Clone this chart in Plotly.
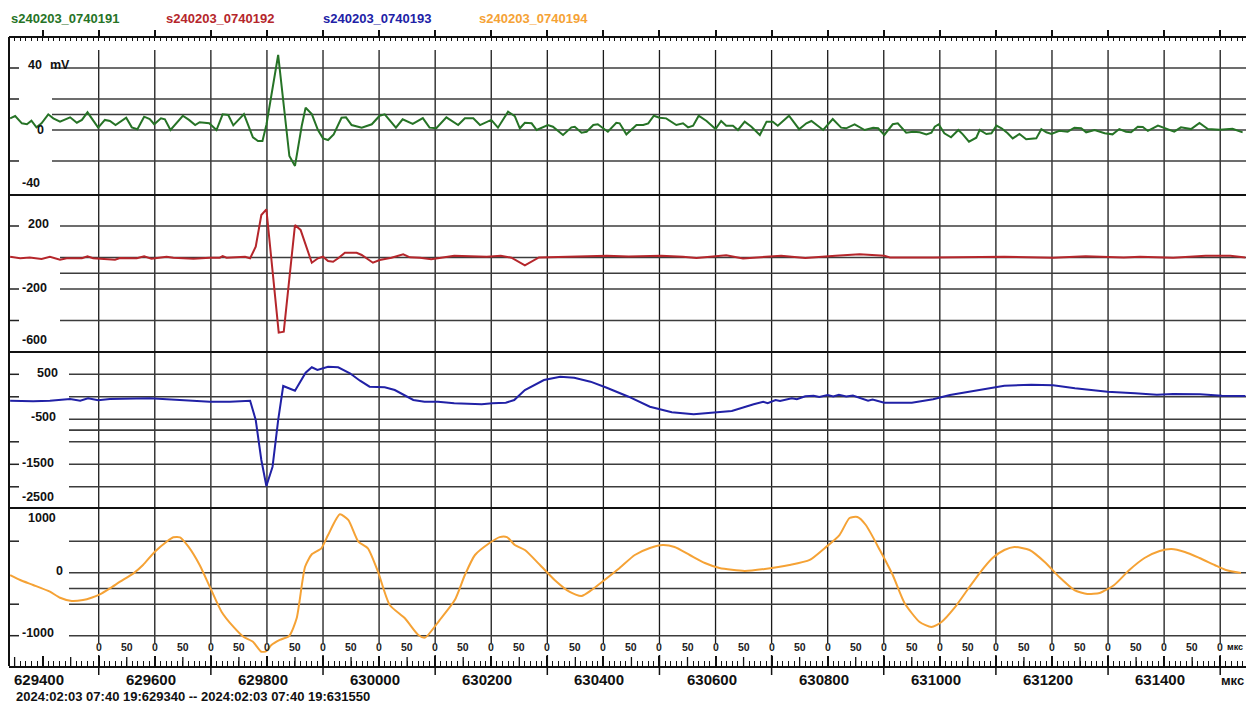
import plotly.graph_objects as go

# ---------------- data (time in µs) ----------------
series_names = ["s240203_0740191", "s240203_0740192", "s240203_0740193", "s240203_0740194"]
series_colors = ["#267326", "#b5262b", "#2121a6", "#f5a235"]

green_samples = [
    (629342, 7.5), (629351, 9.0), (629363, 4.3), (629372, 3.7), (629380, 6.0), (629389, 1.7), (629398, 4.3),
    (629410, 10.1), (629419, 7.5), (629431, 5.4), (629449, 8.2), (629461, 4.7), (629470, 6.5), (629480, 11.4),
    (629499, 1.5), (629511, 6.5), (629520, 5.8), (629530, 3.2), (629549, 7.9), (629559, 1.7), (629569, 0.5),
    (629581, 8.6), (629591, 7.1), (629599, 3.7), (629611, 7.5), (629618, 6.9), (629628, 0.0), (629650, 9.2),
    (629661, 6.5), (629672, 3.2), (629680, 5.0), (629697, 4.3), (629710, 0.0), (629721, 10.1), (629731, 9.7),
    (629740, 3.0), (629759, 10.3), (629775, -4.7), (629784, -7.1), (629792, -7.1), (629799, 3.2), (629820, 48.4),
    (629840, -16.8), (629850, -23.2), (629862, 2.6), (629869, 14.4), (629880, 10.3), (629891, 0.0), (629900, -5.4),
    (629909, -6.5), (629919, -2.8), (629933, 7.9), (629941, 8.2), (629951, 3.2), (629969, 1.5), (629987, 3.7),
    (630001, 9.2), (630010, 10.1), (630030, 1.5), (630042, 6.9), (630060, 3.9), (630078, 7.7), (630090, 1.5),
    (630102, 1.1), (630120, 8.2), (630141, 3.2), (630153, 7.5), (630168, 7.5), (630180, 3.2), (630200, 6.5),
    (630212, 1.5), (630230, 11.8), (630242, 9.0), (630251, 1.1), (630260, 4.7), (630272, 4.3), (630281, 0.0),
    (630301, 3.2), (630310, 2.1), (630328, -3.2), (630343, 1.7), (630349, 2.1), (630361, -1.7), (630370, -1.1),
    (630382, 3.2), (630390, 3.7), (630408, -1.1), (630423, 4.7), (630429, 4.3), (630441, -2.8), (630459, 3.2),
    (630471, 3.2), (630480, 4.3), (630490, 9.2), (630500, 7.9), (630512, 7.5), (630530, 3.2), (630542, 4.3),
    (630551, 1.7), (630560, 2.8), (630570, 9.2), (630584, 5.8), (630600, 0.6), (630610, 5.8), (630619, 2.8),
    (630631, 2.8), (630640, 0.0), (630652, 5.4), (630664, 2.1), (630679, -3.2), (630691, 5.4), (630702, 5.4),
    (630711, 2.8), (630731, 9.2), (630749, 0.5), (630762, 4.3), (630771, 5.8), (630792, 0.0), (630809, 7.1),
    (630824, 1.5), (630833, 1.1), (630848, 3.7), (630866, 0.0), (630881, 1.5), (630890, 1.1), (630901, -3.2),
    (630916, 3.7), (630925, 4.3), (630940, -1.7), (630952, -1.1), (630964, -1.5), (630976, -2.8), (630985, -1.7),
    (630991, 2.1), (630998, 3.7), (631008, -2.1), (631020, -4.7), (631033, 0.0), (631041, -2.8), (631052, -7.5),
    (631065, -5.0), (631071, 0.0), (631083, -2.6), (631092, -2.1), (631101, 2.8), (631110, 1.1), (631121, -2.1),
    (631130, -5.4), (631142, -2.6), (631154, -6.0), (631172, -5.4), (631181, 0.5), (631190, -1.5), (631199, -2.6),
    (631213, -0.5), (631228, -1.1), (631240, 1.5), (631252, 1.1), (631261, -1.5), (631276, 0.0), (631294, -2.1),
    (631308, -2.8), (631320, 0.6), (631332, -1.1), (631341, -1.5), (631353, 2.1), (631362, 1.9), (631371, -0.6),
    (631389, 2.8), (631404, 0.6), (631418, -1.1), (631430, 1.7), (631448, 0.6), (631463, 4.5), (631478, 0.6),
    (631499, 0.2), (631522, 0.8), (631540, -1.5),
]

red_samples = [
    (629342, 5), (629360, -5), (629377, 0), (629398, -10), (629413, 5), (629431, -14), (629443, -5), (629470, -5),
    (629480, 8), (629490, -5), (629529, -14), (629538, -3), (629568, -5), (629581, 8), (629594, -8), (629621, 5),
    (629633, -1), (629669, -8), (629698, -1), (629716, -1), (629721, 9), (629728, -1), (629761, 5), (629770, -5),
    (629780, 69), (629790, 270), (629799, 306), (629821, -477), (629830, -471), (629850, 206), (629860, 175),
    (629880, -33), (629891, -5), (629900, 5), (629909, -22), (629918, -27), (629927, -5), (629939, 30), (629960, 30),
    (629969, 16), (629989, -33), (630001, -16), (630022, -1), (630043, 20), (630055, 1), (630073, -1), (630093, -11),
    (630110, 0), (630134, 11), (630192, 5), (630217, 11), (630236, -1), (630260, -50), (630285, 0), (630328, 5),
    (630406, 11), (630445, 6), (630503, 11), (630542, 5), (630566, -3), (630619, 14), (630649, -6), (630717, 11),
    (630760, -3), (630814, 11), (630857, 20), (630901, 11), (630911, 0), (630989, 0), (631056, 3), (631115, 5),
    (631202, -1), (631260, 8), (631328, 0), (631357, 5), (631416, -1), (631474, 11), (631518, 11), (631545, 0),
]

blue_samples = [
    (629342, -87), (629383, -100), (629413, -87), (629449, -49), (629467, -87), (629481, -33), (629499, -78),
    (629520, -49), (629591, -33), (629621, -56), (629698, -109), (629734, -109), (629770, -87), (629780, -516),
    (629790, -1404), (629799, -1982), (629810, -1553), (629820, -516), (629829, 240), (629850, 136), (629869, 536),
    (629880, 656), (629890, 596), (629909, 669), (629927, 656), (629948, 522), (629966, 358), (629983, 224),
    (630010, 211), (630028, 151), (630049, 2), (630061, -71), (630081, -109), (630105, -109), (630134, -144),
    (630183, -167), (630202, -144), (630226, -131), (630241, -71), (630260, 151), (630294, 373), (630323, 447),
    (630348, 424), (630377, 336), (630406, 202), (630445, 2), (630483, -220), (630522, -344), (630561, -389),
    (630600, -344), (630629, -316), (630668, -167), (630685, -110), (630693, -140), (630707, -71), (630715, -95),
    (630736, -33), (630745, -55), (630760, 10), (630775, 24), (630785, -5), (630800, 40), (630810, 10),
    (630820, 45), (630833, 5), (630845, 30), (630860, -40), (630872, -87), (630880, -60), (630901, -131),
    (630950, -131), (630988, -56), (631018, 40), (631052, 113), (631085, 189), (631115, 247), (631163, 269),
    (631202, 256), (631241, 189), (631299, 113), (631348, 78), (631387, 47), (631416, 62), (631464, 56),
    (631503, 24), (631545, 18),
]

orange_samples = [
    (629342, -37), (629360, -116), (629383, -195), (629413, -302), (629431, -397), (629452, -449), (629472, -433),
    (629487, -397), (629502, -343), (629520, -248), (629538, -143), (629562, -10), (629579, 122), (629600, 333),
    (629621, 492), (629633, 562), (629645, 562), (629660, 413), (629680, 122), (629698, -222), (629719, -619),
    (629740, -857), (629758, -1016), (629775, -1095), (629790, -1254), (629799, -1243), (629808, -1148),
    (629823, -1068), (629840, -1000), (629853, -724), (629868, 95), (629880, 292), (629897, 387), (629909, 598),
    (629930, 927), (629945, 837), (629963, 492), (629980, 387), (629998, 16), (630019, -513), (630046, -724),
    (630070, -989), (630082, -1030), (630108, -752), (630135, -435), (630153, -37), (630171, 281), (630197, 471),
    (630215, 565), (630228, 565), (630242, 440), (630260, 360), (630287, 122), (630313, -116), (630340, -306),
    (630361, -370), (630379, -275), (630402, -116), (630429, 75), (630456, 281), (630483, 392), (630506, 440),
    (630527, 408), (630554, 281), (630581, 154), (630607, 75), (630652, 27), (630688, 59), (630732, 122),
    (630768, 202), (630795, 392), (630821, 598), (630839, 868), (630853, 884), (630868, 757), (630893, 360),
    (630916, -37), (630937, -481), (630964, -783), (630985, -862), (631003, -783), (631026, -560), (631049, -275),
    (631071, -5), (631094, 233), (631115, 360), (631133, 408), (631160, 360), (631187, 170), (631213, -68),
    (631240, -275), (631263, -338), (631285, -322), (631311, -195), (631338, 43), (631365, 233), (631392, 344),
    (631413, 376), (631437, 329), (631463, 233), (631490, 122), (631510, 43), (631537, -5),
]

# axis / label texts
x_range = [629340, 631546]
x_label_values = [629400, 629600, 629800, 630000, 630200, 630400, 630600, 630800, 631000, 631200, 631400]
unit_us = "мкс"
time_span_text = "2024:02:03 07:40 19:629340 -- 2024:02:03 07:40 19:631550"

panel_ranges = [[-41.94, 60.0], [-600.0, 396.8], [-2471.0, 995.6], [-1481.0, 1027.0]]
panel_grid_values = [[40, 20, 10, 0, -20], [200, 0, -100, -200, -400],
                     [500, 0, -500, -740, -1000, -1500, -2000], [500, 0, -250, -500, -1000]]
panel_tick_values = [[40, 20, -20], [200, -200, -400], [500, 0, -1000, -1500, -2000], [500, -500, -1000]]
# (text, left px, center y px)
panel_labels = [
    [("40", 26, 65), ("mV", 48, 65), ("0", 35, 130), ("-40", 20, 183)],
    [("200", 26, 224), ("-200", 20, 288), ("-600", 20, 340)],
    [("500", 35, 373), ("-500", 29, 417), ("-1500", 20, 463), ("-2500", 20, 497)],
    [("1000", 26, 518), ("0", 54, 571), ("-1000", 20, 633)],
]

# ---------------- layout helpers (pixel geometry) ----------------
W, H = 1246, 704
ML, MR, MT, MB = 9, 0, 37, 38
PLOT_TOP, PLOT_BOT = MT, H - MB


def py(p):  # pixel y -> paper y
    return (PLOT_BOT - p) / (PLOT_BOT - PLOT_TOP)


def px(p):  # pixel x -> paper x
    return (p - ML) / (W - ML - MR)


panel_edges_px = [37, 195, 352, 508, 666]
grid_start_px = [52, 60, 69, 69]
FONT = "Liberation Sans, Arial, sans-serif"

fig = go.Figure()
all_samples = [green_samples, red_samples, blue_samples, orange_samples]
yrefs = ["y", "y2", "y3", "y4"]
for i, samples in enumerate(all_samples):
    xs = [s[0] for s in samples]
    ys = [s[1] for s in samples]
    fig.add_trace(go.Scatter(
        x=xs, y=ys, mode="lines", xaxis="x", yaxis=yrefs[i],
        line=dict(color=series_colors[i], width=2, shape="spline" if i == 3 else "linear", smoothing=0.6),
        showlegend=False, hoverinfo="skip"))
# empty trace so the top ruler axis exists
fig.add_trace(go.Scatter(x=[], y=[], xaxis="x2", yaxis="y", showlegend=False, hoverinfo="skip"))

shapes = []
# vertical grid lines every 100 us
for t in range(629500, 631546, 100):
    shapes.append(dict(type="line", xref="x", yref="paper", x0=t, x1=t, y0=py(643), y1=py(50),
                       line=dict(color="#1a1a1a", width=1.3), layer="below"))
# horizontal grid lines & left ticks
for i in range(4):
    for v in panel_grid_values[i]:
        shapes.append(dict(type="line", xref="paper", yref=yrefs[i], x0=px(grid_start_px[i]), x1=1, y0=v, y1=v,
                           line=dict(color="#3c3c3c", width=1.6), layer="below"))
    for v in panel_tick_values[i]:
        shapes.append(dict(type="line", xref="paper", yref=yrefs[i], x0=0, x1=px(19), y0=v, y1=v,
                           line=dict(color="#222", width=1.5), layer="below"))
# panel separators
for e in panel_edges_px[1:-1]:
    shapes.append(dict(type="line", xref="paper", yref="paper", x0=0, x1=1, y0=py(e), y1=py(e),
                       line=dict(color="#111", width=2)))
# left border
shapes.append(dict(type="line", xref="paper", yref="paper", x0=0, x1=0, y0=0, y1=1, line=dict(color="#111", width=2)))
# bottom ruler: 50 us medium ticks and long ticks below axis
for t in range(629350, 631546, 100):
    shapes.append(dict(type="line", xref="x", yref="paper", x0=t, x1=t, y0=py(666), y1=py(657),
                       line=dict(color="#111", width=1.3)))
for t in range(629500, 631546, 200):
    shapes.append(dict(type="line", xref="x", yref="paper", x0=t, x1=t, y0=py(675), y1=py(655),
                       line=dict(color="#111", width=1.5)))

ann = []
# series names at top
name_x = [10, 165, 322, 478]
for i, n in enumerate(series_names):
    ann.append(dict(text="<b>%s</b>" % n, xref="paper", yref="paper", x=px(name_x[i]) - 0.001, y=py(18),
                    xanchor="left", yanchor="middle", showarrow=False,
                    font=dict(family=FONT, size=13, color=series_colors[i])))
# panel value labels
for i in range(4):
    for txt, lx, ly in panel_labels[i]:
        ann.append(dict(text="<b>%s</b>" % txt, xref="paper", yref="paper", x=px(lx), y=py(ly), xanchor="left",
                        yanchor="middle", showarrow=False, font=dict(family=FONT, size=12.5, color="#111")))
# small 0 / 50 labels
for t in range(629500, 631546, 100):
    ann.append(dict(text="<b>0</b>", xref="x", yref="paper", x=t, y=py(647), xanchor="center", yanchor="middle",
                    showarrow=False, font=dict(family=FONT, size=10.5, color="#222")))
for t in range(629550, 631500, 100):
    ann.append(dict(text="<b>50</b>", xref="x", yref="paper", x=t, y=py(647), xanchor="center", yanchor="middle",
                    showarrow=False, font=dict(family=FONT, size=10.5, color="#222")))
ann.append(dict(text="<b>%s</b>" % unit_us, xref="paper", yref="paper", x=px(1225), y=py(647), xanchor="left",
                yanchor="middle", showarrow=False, font=dict(family=FONT, size=9, color="#111")))
# big bottom labels
for t in x_label_values:
    ann.append(dict(text="<b>%d</b>" % t, xref="x", yref="paper", x=t, y=py(679), xanchor="center", xshift=-4,
                    yanchor="middle", showarrow=False, font=dict(family=FONT, size=15, color="#111")))
ann.append(dict(text="<b>%s</b>" % unit_us, xref="paper", yref="paper", x=px(1219), y=py(680), xanchor="left",
                yanchor="middle", showarrow=False, font=dict(family=FONT, size=13, color="#111")))
ann.append(dict(text="<b>%s</b>" % time_span_text, xref="paper", yref="paper", x=px(14), y=py(696),
                xanchor="left", yanchor="middle", showarrow=False, font=dict(family=FONT, size=13, color="#111")))

common_y = dict(anchor="x", showgrid=False, zeroline=False, showticklabels=False, showline=False, fixedrange=True)
doms = [[py(panel_edges_px[i + 1]), py(panel_edges_px[i])] for i in range(4)]

fig.update_layout(
    width=W, height=H, margin=dict(l=ML, r=MR, t=MT, b=MB, pad=0),
    paper_bgcolor="white", plot_bgcolor="white", showlegend=False,
    xaxis=dict(range=x_range, domain=[0, 1], anchor="y4", showgrid=False, zeroline=False, showline=True,
               linecolor="#111", linewidth=2, ticks="inside", ticklen=10, tickwidth=1.5, tickcolor="#111",
               tickmode="linear", tick0=629400, dtick=100, showticklabels=False,
               minor=dict(ticks="inside", dtick=10, ticklen=5, tickwidth=1, tickcolor="#111", showgrid=False)),
    xaxis2=dict(range=x_range, overlaying="x", side="top", anchor="free", position=1, showgrid=False,
                zeroline=False, showline=True, linecolor="#111", linewidth=2, ticks="outside", ticklen=6,
                tickwidth=1.5, tickcolor="#111", tickmode="linear", tick0=629400, dtick=100, showticklabels=False,
                minor=dict(ticks="inside", dtick=10, ticklen=3, tickwidth=1, tickcolor="#111", showgrid=False)),
    yaxis=dict(domain=doms[0], range=panel_ranges[0], **common_y),
    yaxis2=dict(domain=doms[1], range=panel_ranges[1], **common_y),
    yaxis3=dict(domain=doms[2], range=panel_ranges[2], **common_y),
    yaxis4=dict(domain=doms[3], range=panel_ranges[3], **common_y),
    shapes=shapes, annotations=ann,
)

fig.write_html("out.html", config={"displayModeBar": False},
               post_script="document.body.style.margin='0';document.body.style.padding='0';"
                           "document.body.style.overflow='hidden';")
